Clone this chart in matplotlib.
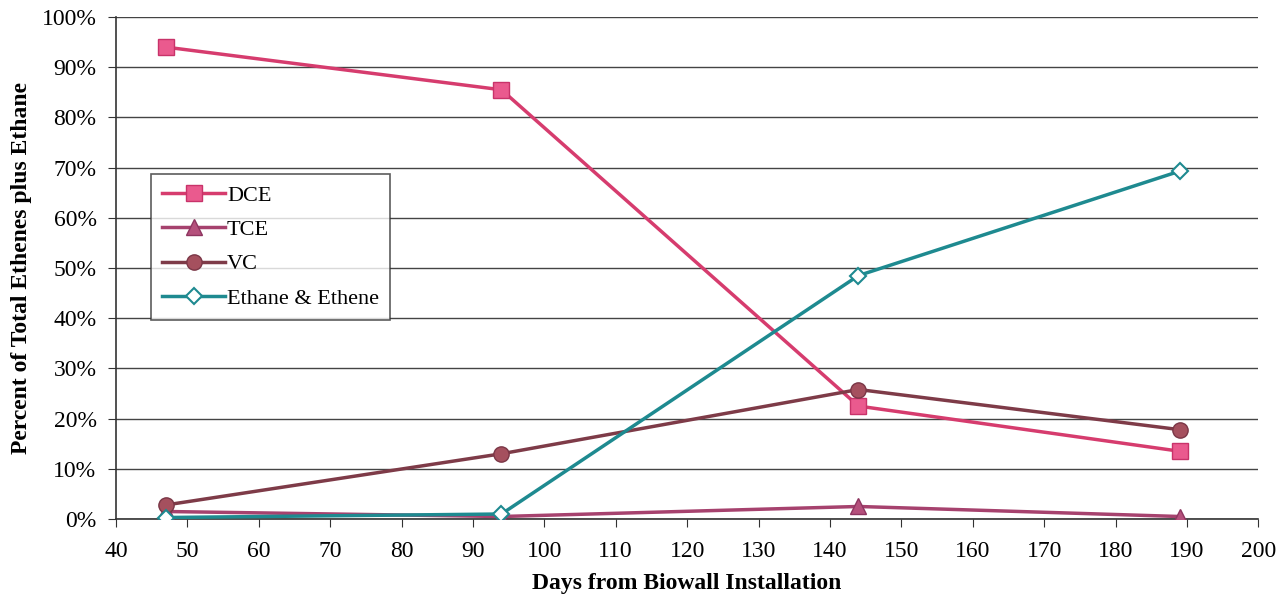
import matplotlib
matplotlib.use("Agg")
import matplotlib.pyplot as plt
from matplotlib.ticker import FuncFormatter, MultipleLocator

plt.rcParams['font.family'] = ['Liberation Serif', 'DejaVu Serif']

days = [47, 94, 144, 189]
dce = [94.0, 85.5, 22.5, 13.5]
tce = [1.5, 0.5, 2.5, 0.5]
vc = [2.8, 13.0, 25.8, 17.8]
ethane = [0.3, 1.0, 48.5, 69.3]

fig = plt.figure(figsize=(12.84, 6.01), dpi=100)
ax = fig.add_axes([0.0903, 0.1364, 0.8897, 0.8353])

ax.plot(days, dce, color='#D63C6E', lw=2.5, marker='s', ms=11,
        mfc='#EA5A8E', mec='#C8336A', label='DCE', zorder=4)
ax.plot(days, tce, color='#A6426E', lw=2.5, marker='^', ms=11,
        mfc='#B5507C', mec='#8E3560', label='TCE', zorder=4)
ax.plot(days, vc, color='#7E3B48', lw=2.5, marker='o', ms=11,
        mfc='#A5505E', mec='#7A3646', label='VC', zorder=4)
ax.plot(days, ethane, color='#1E8A90', lw=2.5, marker='D', ms=8,
        mfc='white', mec='#1E8A90', mew=1.5, label='Ethane & Ethene', zorder=5)

ax.set_xlim(40, 200)
ax.set_ylim(0, 100)
ax.xaxis.set_major_locator(MultipleLocator(10))
ax.yaxis.set_major_locator(MultipleLocator(10))
ax.yaxis.set_major_formatter(FuncFormatter(lambda v, p: f'{v:.0f}%'))
ax.tick_params(labelsize=17, direction='out', length=6, color='#333333')
ax.tick_params(axis='x', pad=10)
ax.tick_params(axis='y', pad=8)
ax.grid(axis='y', color='#444444', lw=1.0)
ax.set_axisbelow(True)
for s in ['top', 'right']:
    ax.spines[s].set_visible(False)
for s in ['left', 'bottom']:
    ax.spines[s].set_color('#333333')
    ax.spines[s].set_linewidth(1.2)

ax.set_xlabel('Days from Biowall Installation', fontsize=17, fontweight='bold',
              labelpad=8)
ax.set_ylabel('Percent of Total Ethenes plus Ethane', fontsize=17,
              fontweight='bold', labelpad=7)

leg = ax.legend(loc='upper left', bbox_to_anchor=(0.031, 0.687), fontsize=16,
                frameon=True, fancybox=False, edgecolor='#333333',
                handlelength=2.8, handletextpad=0.1, labelspacing=0.62,
                borderpad=0.5, borderaxespad=0)
leg.get_frame().set_linewidth(1.2)

fig.savefig('out.png', dpi=100)
